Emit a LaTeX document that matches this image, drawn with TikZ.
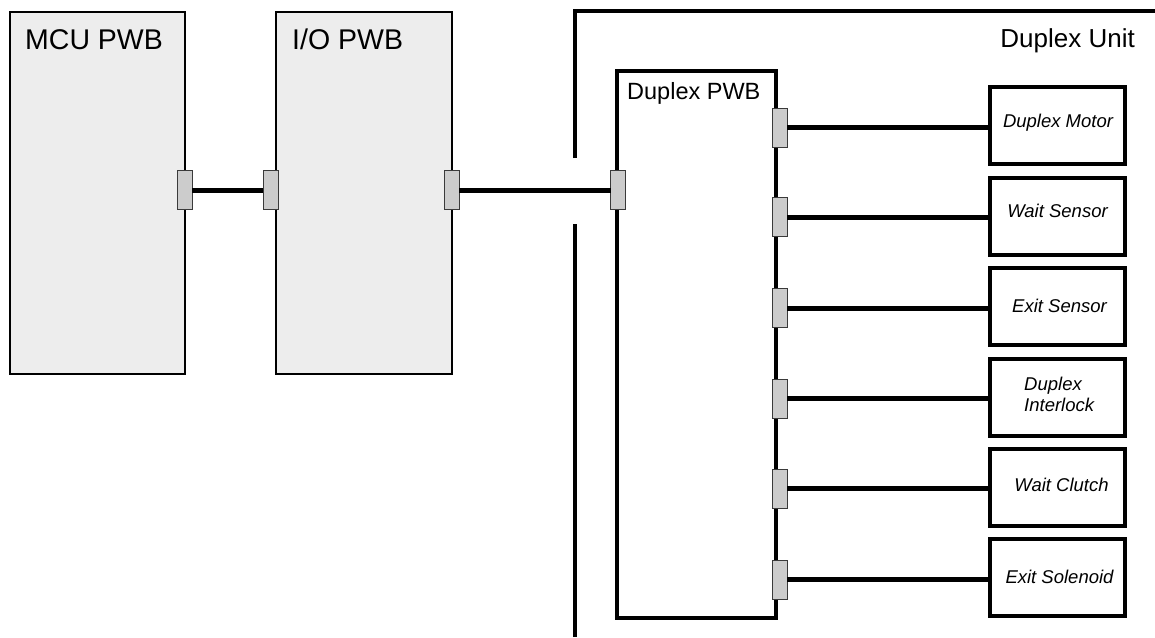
\documentclass[tikz,border=0pt]{standalone}
\usepackage{fontspec}
\setmainfont{Liberation Sans}
\definecolor{boardgray}{HTML}{EDEDED}
\definecolor{conngray}{HTML}{CCCCCC}
\definecolor{connedge}{HTML}{3A3A3A}
\begin{document}
\begin{tikzpicture}[x=1pt,y=-1pt,
  board/.style={draw=black, fill=boardgray, line width=2pt, rectangle, inner sep=0pt, outer sep=0pt},
  dboard/.style={draw=black, fill=white, line width=4pt, rectangle, inner sep=0pt, outer sep=0pt},
  device/.style={draw=black, fill=white, line width=4pt, rectangle, inner sep=0pt, outer sep=0pt,
                 minimum width=135pt, minimum height=77pt},
  conn/.style={draw=connedge, fill=conngray, line width=1pt, rectangle, inner sep=0pt, outer sep=0pt,
               minimum width=15pt, minimum height=39pt},
  wire/.style={draw=black, line width=5pt},
  unitline/.style={draw=black, line width=4pt, line join=miter},
  bigtitle/.style={font=\fontsize{28.5}{31}\selectfont, inner sep=0pt},
  midtitle/.style={font=\fontsize{23.5}{26}\selectfont, inner sep=0pt},
  devlabel/.style={font=\fontsize{18.5}{21}\selectfont\itshape, inner sep=0pt}
]
\useasboundingbox (0,0) rectangle (1155,637);

% Duplex Unit boundary
\coordinate (ub) at (575,637);
\coordinate (ugb) at (575,224);
\coordinate (ugt) at (575,158);
\coordinate (utl) at (575,10.5);
\coordinate (utr) at (1155,10.5);
\draw[unitline] (ub) -- (ugb);
\draw[unitline] (ugt) -- (utl) -- (utr);
\node[inner sep=0pt, font=\fontsize{26}{30}\selectfont, anchor=base east] (unitlbl) at (1135,47) {Duplex Unit};

% Boards
\node[board, minimum width=175.5pt, minimum height=362pt] (mcu) at (97.25,193) {};
\node[board, minimum width=176.2pt, minimum height=362pt] (io) at (363.6,193) {};
\node[bigtitle, anchor=base west] (mculbl) at (25,49) {MCU PWB};
\node[bigtitle, anchor=base west] (iolbl) at (292,49) {I/O PWB};

\node[dboard, minimum width=159pt, minimum height=547pt] (dpwb) at (696.5,344) {};
\node[midtitle, anchor=base west] (dpwblbl) at (627,99) {Duplex PWB};

% Devices
\node[device] (d1) at (1057.5,125) {};
\node[device] (d2) at (1057.5,216) {};
\node[device] (d3) at (1057.5,306.5) {};
\node[device] (d4) at (1057.5,397) {};
\node[device] (d5) at (1057.5,487.5) {};
\node[device] (d6) at (1057.5,577.5) {};

\node[devlabel, anchor=base] (l1) at (1058,127) {Duplex Motor};
\node[devlabel, anchor=base] (l2) at (1057.5,217) {Wait Sensor};
\node[devlabel, anchor=base] (l3) at (1059.5,312) {Exit Sensor};
\node[devlabel, anchor=north west, align=left] (l4) at (1024,376.5) {Duplex\\Interlock};
\node[devlabel, anchor=base] (l5) at (1061.5,491) {Wait Clutch};
\node[devlabel, anchor=base] (l6) at (1059.5,583) {Exit Solenoid};

% Connectors
\node[conn] (mcuc) at (184.5,190) {};
\node[conn] (iol) at (270.5,190) {};
\node[conn] (ior) at (451.5,190) {};
\node[conn] (dpl) at (618,190) {};

\node[conn] (p1) at (779.5,127.5) {};
\node[conn] (p2) at (779.5,217) {};
\node[conn] (p3) at (779.5,308) {};
\node[conn] (p4) at (779.5,398.5) {};
\node[conn] (p5) at (779.5,488.5) {};
\node[conn] (p6) at (779.5,579.5) {};

% Wires
\draw[wire] (mcuc.east) -- (mcuc.east -| iol.west);
\draw[wire] (ior.east) -- (ior.east -| dpl.west);
\foreach \i in {1,...,6}{
  \draw[wire] (p\i.east) -- (p\i.east -| d\i.west);
}
\end{tikzpicture}
\end{document}
